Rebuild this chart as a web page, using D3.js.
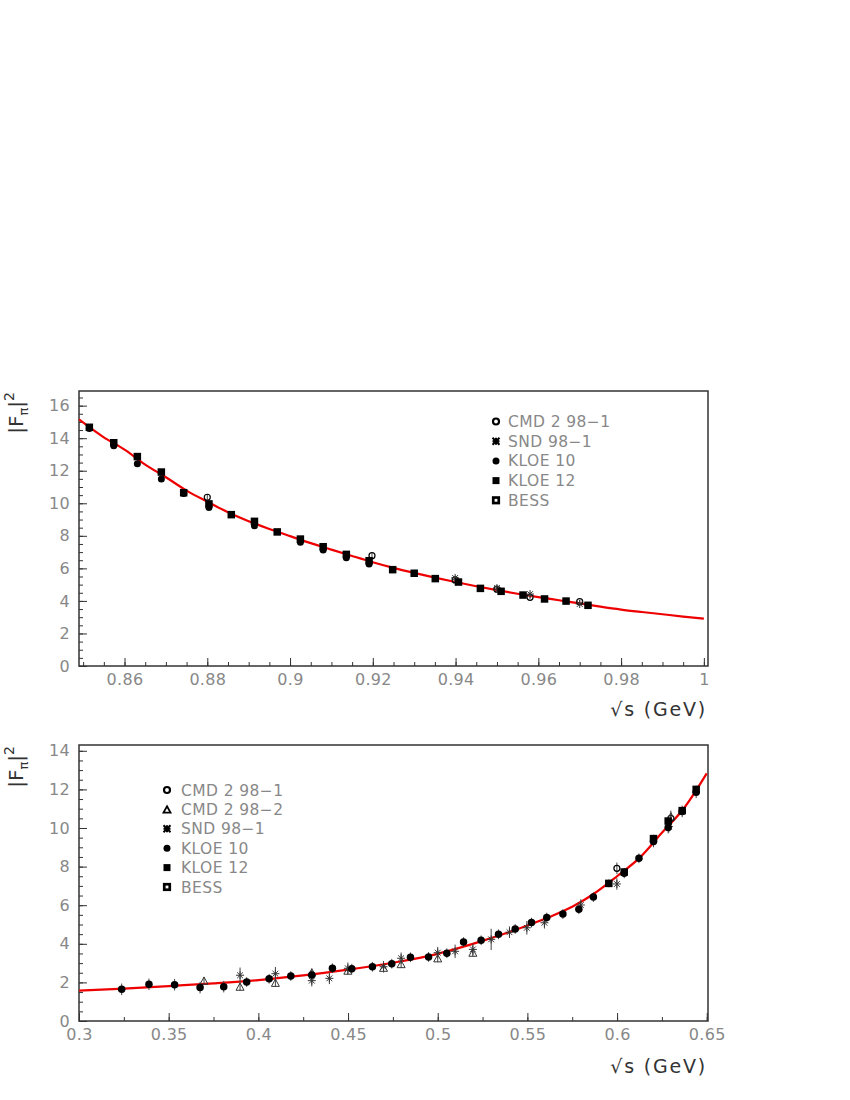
<!DOCTYPE html>
<html>
<head>
<meta charset="utf-8">
<script src="https://cdn.jsdelivr.net/npm/d3@7"></script>
<style>
  body { margin: 0; background: #fff; }
  text { font-family: "DejaVu Sans", sans-serif; }
</style>
</head>
<body>
<div id="chart"></div>
<script>
// ---- top panel data (sqrt(s) in GeV, |F_pi|^2) ----
const topCurveX = [0.849,0.855,0.86,0.865,0.87,0.875,0.88,0.885,0.89,0.895,0.90,0.905,0.91,0.915,0.92,0.925,0.93,0.935,0.94,0.945,0.95,0.955,0.96,0.965,0.97,0.975,0.98,0.985,0.99,0.995,1.0];
const topCurveY = [15.15,14.05,13.3,12.38,11.6,10.78,10.1,9.45,8.9,8.42,7.98,7.55,7.15,6.76,6.38,6.03,5.72,5.43,5.16,4.9,4.66,4.44,4.23,4.04,3.85,3.65,3.47,3.32,3.18,3.04,2.91];

const topKloe12X = [0.8515,0.8574,0.8631,0.8689,0.8743,0.8804,0.8858,0.8914,0.8969,0.9025,0.9080,0.9136,0.9191,0.9248,0.9300,0.9351,0.9407,0.9460,0.9510,0.9563,0.9615,0.9667,0.9720];
const topKloe12Y = [14.67,13.72,12.87,11.92,10.65,9.96,9.30,8.89,8.24,7.80,7.33,6.86,6.47,5.92,5.70,5.37,5.16,4.77,4.59,4.36,4.12,3.99,3.73];
const topKloe12E = [0.12,0.12,0.12,0.11,0.1,0.1,0.09,0.09,0.08,0.08,0.08,0.07,0.07,0.07,0.06,0.06,0.06,0.06,0.05,0.05,0.05,0.05,0.05];

const topKloe10X = [0.8515,0.8574,0.8631,0.8689,0.8743,0.8804,0.8914,0.9025,0.9080,0.9136,0.9191];
const topKloe10Y = [14.6,13.54,12.43,11.49,10.6,9.74,8.62,7.60,7.13,6.66,6.27];
const topKloe10E = [0.15,0.14,0.13,0.12,0.11,0.1,0.09,0.08,0.08,0.07,0.07];

const topCmdX = [0.8800,0.9198,0.9399,0.9500,0.9580,0.9700];
const topCmdY = [10.37,6.78,5.29,4.72,4.22,3.95];
const topCmdE = [0.2,0.15,0.12,0.1,0.1,0.1];

const topSndX = [0.9399,0.9500,0.9580,0.9700];
const topSndY = [5.41,4.79,4.42,3.81];
const topSndE = [0.12,0.1,0.1,0.1];

const topXTicks = [0.86,0.88,0.9,0.92,0.94,0.96,0.98,1];
const topYTicks = [0,2,4,6,8,10,12,14,16];

// ---- bottom panel data ----
const botCurveX = [0.30,0.325,0.35,0.375,0.40,0.425,0.45,0.475,0.50,0.5125,0.525,0.5375,0.55,0.5625,0.575,0.5875,0.60,0.6125,0.625,0.6375,0.65];
const botCurveY = [1.57,1.68,1.81,1.95,2.12,2.36,2.66,3.02,3.48,3.8,4.15,4.53,4.95,5.4,5.92,6.62,7.5,8.45,9.75,11.05,12.83];

const botKloe10X = [0.3238,0.3390,0.3533,0.3675,0.3807,0.3935,0.4060,0.4181,0.4298,0.4413,0.4521,0.4636,0.4744,0.4848,0.4949,0.5051,0.5144,0.5242,0.5339,0.5432,0.5523,0.5608,0.5698,0.5787,0.5868,0.6040,0.6122,0.6203,0.6285,0.6363,0.6441];
const botKloe10Y = [1.64,1.90,1.88,1.73,1.78,2.02,2.19,2.33,2.38,2.73,2.71,2.81,2.97,3.30,3.32,3.51,4.09,4.18,4.49,4.77,5.10,5.36,5.54,5.79,6.42,7.65,8.43,9.30,10.02,10.86,11.85];
const botKloe10E = [0.3,0.3,0.3,0.3,0.3,0.25,0.25,0.25,0.25,0.25,0.25,0.25,0.25,0.25,0.25,0.25,0.25,0.25,0.25,0.25,0.25,0.25,0.25,0.25,0.25,0.25,0.25,0.3,0.3,0.3,0.3];

const botKloe12X = [0.5954,0.6040,0.6203,0.6285,0.6363,0.6441];
const botKloe12Y = [7.13,7.72,9.45,10.36,10.90,12.0];
const botKloe12E = [0.2,0.2,0.2,0.2,0.2,0.2];

const botCmd1X = [0.5999,0.6300];
const botCmd1Y = [7.91,10.50];
const botCmd1E = [0.3,0.3];

const botCmd2X = [0.3697,0.3898,0.4095,0.4298,0.4499,0.4698,0.4796,0.5000,0.5196,0.6300];
const botCmd2Y = [2.09,1.78,1.98,2.52,2.61,2.76,2.95,3.25,3.54,10.6];
const botCmd2E = [0.2,0.2,0.2,0.2,0.2,0.2,0.2,0.2,0.2,0.3];

const botSndX = [0.3898,0.4095,0.4298,0.4396,0.4499,0.4698,0.4796,0.5000,0.5097,0.5196,0.5298,0.5400,0.5497,0.5595,0.5798,0.5999,0.6289];
const botSndY = [2.37,2.45,2.09,2.21,2.73,2.81,3.25,3.54,3.61,3.71,4.23,4.60,4.83,5.09,6.01,7.10,10.07];
const botSndE = [0.4,0.35,0.3,0.3,0.3,0.3,0.3,0.3,0.35,0.3,0.55,0.3,0.35,0.3,0.3,0.3,0.3];

const botXTicks = [0.3,0.35,0.4,0.45,0.5,0.55,0.6,0.65];
const botYTicks = [0,2,4,6,8,10,12,14];

const topLegend = ["CMD 2 98\u22121","SND 98\u22121","KLOE 10","KLOE 12","BESS"];
const topLegendMarks = ["opencircle","star","circle","square","opensquare"];
const botLegend = ["CMD 2 98\u22121","CMD 2 98\u22122","SND 98\u22121","KLOE 10","KLOE 12","BESS"];
const botLegendMarks = ["opencircle","triangle","star","circle","square","opensquare"];

const svg = d3.select("#chart").append("svg")
  .attr("width", 850).attr("height", 1100);

function marker(g, type, cx, cy, s, w) {
  w = w || 1;
  if (type === "circle") {
    g.append("circle").attr("cx", cx).attr("cy", cy).attr("r", s/2).attr("fill", "#000");
  } else if (type === "opencircle") {
    g.append("circle").attr("cx", cx).attr("cy", cy).attr("r", s/2 - 0.5)
      .attr("fill", "none").attr("stroke", "#000").attr("stroke-width", 1.2 * w);
  } else if (type === "square") {
    g.append("rect").attr("x", cx - s/2).attr("y", cy - s/2).attr("width", s).attr("height", s).attr("fill", "#000");
  } else if (type === "opensquare") {
    g.append("rect").attr("x", cx - s/2 + 0.75).attr("y", cy - s/2 + 0.75).attr("width", s - 1.5).attr("height", s - 1.5)
      .attr("fill", "none").attr("stroke", "#000").attr("stroke-width", 1.5 * w);
  } else if (type === "triangle") {
    const h = s * 0.9;
    g.append("path").attr("d", `M${cx},${cy - h/2}L${cx + s/2},${cy + h/2}L${cx - s/2},${cy + h/2}Z`)
      .attr("fill", "none").attr("stroke", w > 1 ? "#000" : "#333").attr("stroke-width", w);
  } else if (type === "star") {
    const r = s/2, d = r * 0.72;
    g.append("path")
      .attr("d", `M${cx - r},${cy}L${cx + r},${cy}M${cx},${cy - r}L${cx},${cy + r}M${cx - d},${cy - d}L${cx + d},${cy + d}M${cx - d},${cy + d}L${cx + d},${cy - d}`)
      .attr("stroke", "#333").attr("stroke-width", 1).attr("fill", "none");
  } else if (type === "legendstar") {
    const r = s/2;
    g.append("path")
      .attr("d", `M${cx - r},${cy - r}L${cx + r},${cy + r}M${cx - r},${cy + r}L${cx + r},${cy - r}M${cx - r},${cy}L${cx + r},${cy}M${cx},${cy - r}L${cx},${cy + r}`)
      .attr("stroke", "#000").attr("stroke-width", 2).attr("fill", "none");
  }
}

function panel(cfg) {
  const x = d3.scaleLinear().domain(cfg.xDomain).range([cfg.left, cfg.right]);
  const y = d3.scaleLinear().domain(cfg.yDomain).range([cfg.bottom, cfg.top]);
  const g = svg.append("g");

  // minor ticks
  g.append("g").attr("transform", `translate(0,${cfg.bottom})`)
    .call(d3.axisBottom(x).tickValues(cfg.xMinor).tickSize(-4).tickFormat(""))
    .call(a => a.select(".domain").remove());
  g.append("g").attr("transform", `translate(${cfg.left},0)`)
    .call(d3.axisLeft(y).tickValues(cfg.yMinor).tickSize(-4).tickFormat(""))
    .call(a => a.select(".domain").remove());

  // major ticks + labels
  const fmt = v => String(+v.toFixed(3));
  const xa = g.append("g").attr("transform", `translate(0,${cfg.bottom})`)
    .call(d3.axisBottom(x).tickValues(cfg.xTicks).tickSize(-8).tickPadding(8).tickFormat(fmt));
  const ya = g.append("g").attr("transform", `translate(${cfg.left},0)`)
    .call(d3.axisLeft(y).tickValues(cfg.yTicks).tickSize(-8).tickPadding(9).tickFormat(fmt));
  [xa, ya].forEach(a => {
    a.select(".domain").remove();
    a.selectAll("text").attr("font-family", "DejaVu Sans").attr("font-size", 16)
      .attr("fill", "#888").attr("letter-spacing", 0.3);
  });
  g.selectAll(".tick line").attr("stroke", "#333").attr("stroke-width", 1);

  // frame
  g.append("rect").attr("x", cfg.left).attr("y", cfg.top)
    .attr("width", cfg.right - cfg.left).attr("height", cfg.bottom - cfg.top)
    .attr("fill", "none").attr("stroke", "#333").attr("stroke-width", 1.5);

  // curve
  const pts = cfg.curveX.map((v, i) => [v, cfg.curveY[i]]);
  g.append("path").datum(pts)
    .attr("d", d3.line().x(d => x(d[0])).y(d => y(d[1])).curve(d3.curveMonotoneX))
    .attr("fill", "none").attr("stroke", "#ee0000").attr("stroke-width", 2.2);

  // data series
  cfg.series.forEach(s => {
    s.x.forEach((xv, i) => {
      const px = x(xv), py = y(s.y[i]);
      g.append("line").attr("x1", px).attr("x2", px)
        .attr("y1", y(s.y[i] - s.e[i])).attr("y2", y(s.y[i] + s.e[i]))
        .attr("stroke", "#444").attr("stroke-width", 1);
      marker(g, s.type, px, py, s.size);
    });
  });

  // legend
  cfg.legend.forEach((t, i) => {
    const ly = cfg.legY + i * cfg.legStep;
    const mt = cfg.legMarks[i] === "star" ? "legendstar" : cfg.legMarks[i];
    marker(g, mt, cfg.legMX, ly, 7, 1.8);
    g.append("text").attr("x", cfg.legTX).attr("y", ly).attr("dy", "0.36em")
      .attr("font-size", 15.5).attr("letter-spacing", 0.4).attr("fill", "#888").text(t);
  });

  // x title
  g.append("text").attr("x", cfg.right - 1).attr("y", cfg.xTitleY)
    .attr("text-anchor", "end").attr("font-size", 19).attr("letter-spacing", 1.8)
    .attr("fill", "#333").text("\u221As (GeV)");

  // y title
  const yt = g.append("text").attr("transform", `translate(23,${cfg.top + 1}) rotate(-90)`)
    .attr("text-anchor", "end").attr("font-size", 20).attr("fill", "#333");
  yt.append("tspan").text("|F");
  yt.append("tspan").attr("font-size", 13).attr("dy", 5).text("\u03C0");
  yt.append("tspan").attr("dy", -5).text("|");
  yt.append("tspan").attr("font-size", 14).attr("dy", -9).text("2");
}

panel({
  left: 79, right: 708, top: 391, bottom: 666,
  xDomain: [0.849, 1.001], yDomain: [0, 16.9],
  xTicks: topXTicks, yTicks: topYTicks,
  xMinor: d3.range(0.85, 1.0001, 0.005), yMinor: d3.range(0, 16.51, 0.5),
  curveX: topCurveX, curveY: topCurveY,
  series: [
    {x: topCmdX, y: topCmdY, e: topCmdE, type: "opencircle", size: 7},
    {x: topSndX, y: topSndY, e: topSndE, type: "star", size: 8},
    {x: topKloe10X, y: topKloe10Y, e: topKloe10E, type: "circle", size: 7},
    {x: topKloe12X, y: topKloe12Y, e: topKloe12E, type: "square", size: 7.5}
  ],
  legend: topLegend, legMarks: topLegendMarks,
  legMX: 496, legTX: 508, legY: 421.5, legStep: 19.7,
  xTitleY: 716
});

panel({
  left: 79, right: 708, top: 745, bottom: 1021,
  xDomain: [0.3, 0.6507], yDomain: [0, 14.3],
  xTicks: botXTicks, yTicks: botYTicks,
  xMinor: d3.range(0.3, 0.6501, 0.025), yMinor: d3.range(0, 14.01, 0.5),
  curveX: botCurveX, curveY: botCurveY,
  series: [
    {x: botCmd1X, y: botCmd1Y, e: botCmd1E, type: "opencircle", size: 7},
    {x: botCmd2X, y: botCmd2Y, e: botCmd2E, type: "triangle", size: 8},
    {x: botSndX, y: botSndY, e: botSndE, type: "star", size: 8},
    {x: botKloe10X, y: botKloe10Y, e: botKloe10E, type: "circle", size: 7.5},
    {x: botKloe12X, y: botKloe12Y, e: botKloe12E, type: "square", size: 7.5}
  ],
  legend: botLegend, legMarks: botLegendMarks,
  legMX: 167, legTX: 181, legY: 790, legStep: 19.4,
  xTitleY: 1073
});
</script>
</body>
</html>
